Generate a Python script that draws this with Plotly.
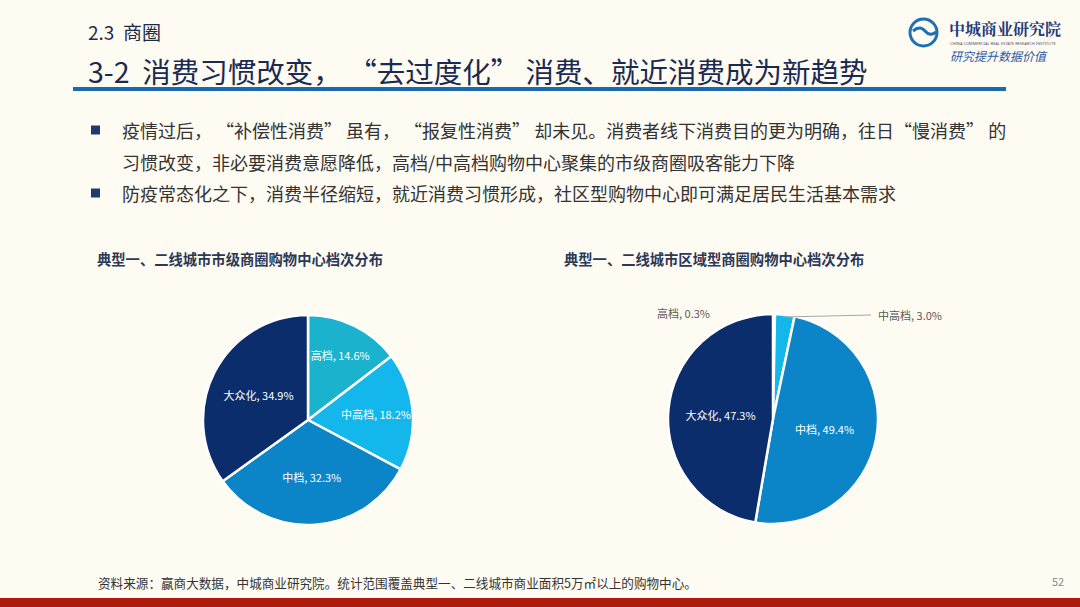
import plotly.graph_objects as go

W, H = 1080, 607

# ---- data ----
labels = ["高档", "中高档", "中档", "大众化"]
city_level_share = [14.6, 18.2, 32.3, 34.9]        # 市级商圈
district_level_share = [0.3, 3.0, 49.4, 47.3]      # 区域型商圈
slice_colors = ["#1BB2CD", "#14B7EC", "#0B84C8", "#0B2D6B"]

chart_titles = ["典型一、二线城市市级商圈购物中心档次分布",
                "典型一、二线城市区域型商圈购物中心档次分布"]
section_label = "2.3  商圈"
headline = "3-2  消费习惯改变， “去过度化” 消费、就近消费成为新趋势"
bullet_lines = [
    "疫情过后， “补偿性消费” 虽有， “报复性消费” 却未见。消费者线下消费目的更为明确，往日“慢消费” 的",
    "习惯改变，非必要消费意愿降低，高档/中高档购物中心聚集的市级商圈吸客能力下降",
    "防疫常态化之下，消费半径缩短，就近消费习惯形成，社区型购物中心即可满足居民生活基本需求",
]
source_note = "资料来源：赢商大数据，中城商业研究院。统计范围覆盖典型一、二线城市商业面积5万㎡以上的购物中心。"
page_no = "52"

FONT = "Noto Sans CJK SC, Noto Sans, sans-serif"
BG = "#FEFBF2"


def px(x):
    return x / W


def py(y):
    return 1 - y / H


fig = go.Figure()

# pie 1 (city level): all labels inside
fig.add_trace(go.Pie(
    labels=labels, values=city_level_share, sort=False, direction="clockwise", rotation=0,
    marker=dict(colors=slice_colors, line=dict(color="white", width=2.5)),
    texttemplate="%{label}, %{value:.1f}%", textposition="inside",
    insidetextorientation="horizontal",
    textfont=dict(family=FONT, size=11, color="white"),
    domain=dict(x=[px(203), px(413)], y=[py(525), py(315)]),
    showlegend=False, hoverinfo="label+value",
))

# pie 2 (district level): two small slices labelled outside via annotations
inside_text = ["", "", "%{label}, %{value:.1f}%", "%{label}, %{value:.1f}%"]
fig.add_trace(go.Pie(
    labels=labels, values=district_level_share, sort=False, direction="clockwise", rotation=0,
    marker=dict(colors=slice_colors, line=dict(color="white", width=2.5)),
    texttemplate=inside_text, textposition="inside",
    insidetextorientation="horizontal",
    textfont=dict(family=FONT, size=11, color="white"),
    domain=dict(x=[px(668), px(878)], y=[py(524), py(314)]),
    showlegend=False, hoverinfo="label+value",
))

annotations = []
shapes = []

# header
annotations.append(dict(x=px(86), y=py(31), xref="paper", yref="paper", xanchor="left", yanchor="middle",
                        text=section_label, showarrow=False,
                        font=dict(family=FONT, size=19, color="#1E2B48")))
annotations.append(dict(x=px(86), y=py(70), xref="paper", yref="paper", xanchor="left", yanchor="middle",
                        text=headline, showarrow=False,
                        font=dict(family=FONT, size=28.5, color="#1A2A50")))
shapes.append(dict(type="line", xref="paper", yref="paper", x0=px(73), x1=px(1006), y0=py(89), y1=py(89),
                   line=dict(color="#1A6AAE", width=4)))

# logo
shapes.append(dict(type="circle", xref="paper", yref="paper", x0=px(910), x1=px(937), y0=py(46), y1=py(19),
                   line=dict(color="#1F6FB5", width=3), fillcolor="rgba(0,0,0,0)"))
shapes.append(dict(type="path", xref="paper", yref="paper",
                   path=f"M {px(913)},{py(31)} Q {px(920)},{py(25)} {px(925)},{py(31)} T {px(936)},{py(32)}",
                   line=dict(color="#1F6FB5", width=3)))
annotations.append(dict(x=px(947), y=py(29), xref="paper", yref="paper", xanchor="left", yanchor="middle",
                        text="<b>中城商业研究院</b>", showarrow=False,
                        font=dict(family="Noto Serif CJK SC, Noto Sans CJK SC, serif", size=16, color="#1F3C7A")))
annotations.append(dict(x=px(948), y=py(43), xref="paper", yref="paper", xanchor="left", yanchor="middle",
                        text="CHINA COMMERCIAL REAL ESTATE RESEARCH INSTITUTE", showarrow=False,
                        font=dict(family="Noto Sans", size=4, color="#556")))
annotations.append(dict(x=px(948), y=py(56), xref="paper", yref="paper", xanchor="left", yanchor="middle",
                        text="<i>研究提升数据价值</i>", showarrow=False,
                        font=dict(family=FONT, size=12, color="#2A5CA8")))

# bullets
bullet_y = [130, 162, 193]
bullet_mark = [True, False, True]
for line, yv, mark in zip(bullet_lines, bullet_y, bullet_mark):
    if mark:
        shapes.append(dict(type="rect", xref="paper", yref="paper", x0=px(91), x1=px(100),
                           y0=py(yv + 4.5), y1=py(yv - 4.5), fillcolor="#1F3A6E", line=dict(width=0)))
    annotations.append(dict(x=px(120), y=py(yv), xref="paper", yref="paper", xanchor="left", yanchor="middle",
                            text=line, showarrow=False,
                            font=dict(family=FONT, size=18, color="#333333")))

# chart titles
annotations.append(dict(x=px(95), y=py(258), xref="paper", yref="paper", xanchor="left", yanchor="middle",
                        text=f"<b>{chart_titles[0]}</b>", showarrow=False,
                        font=dict(family=FONT, size=14.3, color="#2B3856")))
annotations.append(dict(x=px(562), y=py(258), xref="paper", yref="paper", xanchor="left", yanchor="middle",
                        text=f"<b>{chart_titles[1]}</b>", showarrow=False,
                        font=dict(family=FONT, size=14.3, color="#2B3856")))

# outside labels for pie 2
annotations.append(dict(x=px(712), y=py(313), xref="paper", yref="paper", xanchor="right", yanchor="middle",
                        text=f"{labels[0]}, {district_level_share[0]:.1f}%", showarrow=False,
                        font=dict(family=FONT, size=11, color="#595959")))
annotations.append(dict(x=px(876), y=py(315), xref="paper", yref="paper", xanchor="left", yanchor="middle",
                        text=f"{labels[1]}, {district_level_share[1]:.1f}%", showarrow=False,
                        font=dict(family=FONT, size=11, color="#595959")))
shapes.append(dict(type="line", xref="paper", yref="paper", x0=px(783), x1=px(871), y0=py(317), y1=py(315),
                   line=dict(color="#A6A6A6", width=1)))

# footer
annotations.append(dict(x=px(96), y=py(582), xref="paper", yref="paper", xanchor="left", yanchor="middle",
                        text=source_note, showarrow=False,
                        font=dict(family=FONT, size=12.6, color="#333333")))
annotations.append(dict(x=px(1066), y=py(581), xref="paper", yref="paper", xanchor="right", yanchor="middle",
                        text=page_no, showarrow=False,
                        font=dict(family=FONT, size=11, color="#8C8C8C")))
shapes.append(dict(type="rect", xref="paper", yref="paper", x0=0, x1=1, y0=0, y1=py(598),
                   fillcolor="#B01A0C", line=dict(width=0)))

fig.update_layout(
    width=W, height=H,
    margin=dict(l=0, r=0, t=0, b=0),
    paper_bgcolor=BG, plot_bgcolor=BG,
    annotations=annotations, shapes=shapes,
    showlegend=False,
)

fig.write_html("out.html", config={"displayModeBar": False})
